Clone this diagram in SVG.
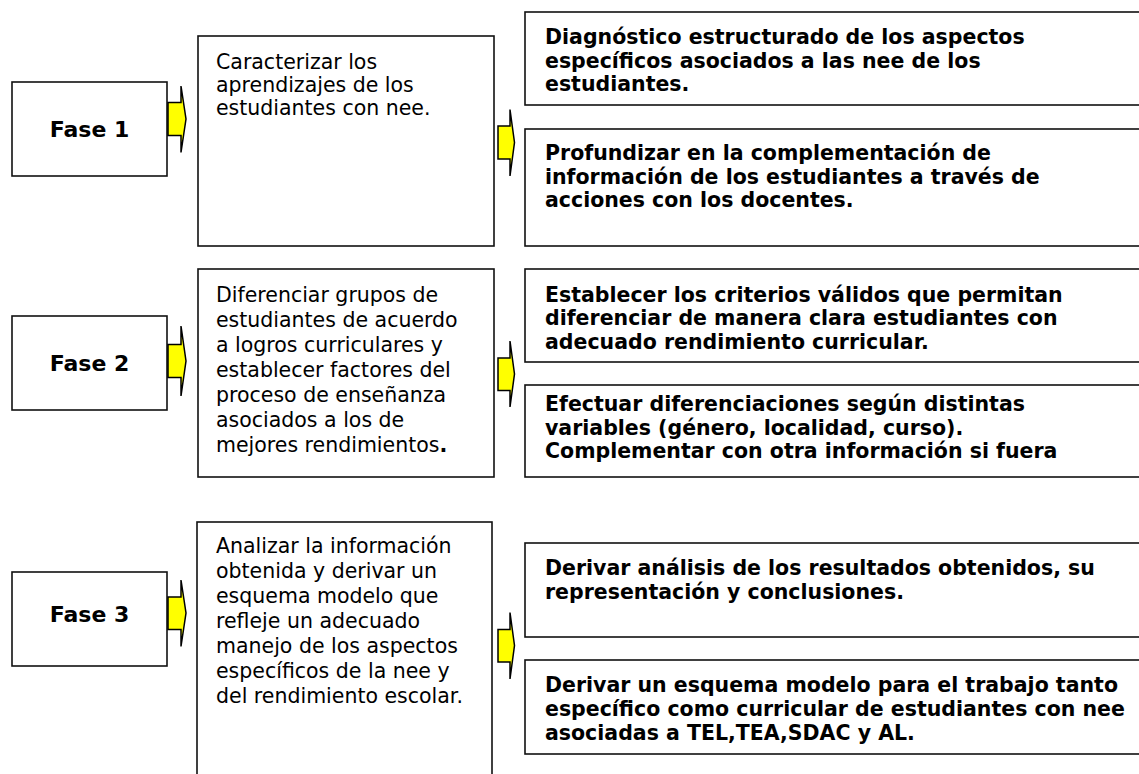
<svg xmlns="http://www.w3.org/2000/svg" width="1139" height="774" viewBox="0 0 1139 774">
<style>
.box{fill:#fff;stroke:#111;stroke-width:1.6}
.t{font-family:"DejaVu Sans",Verdana,sans-serif;font-size:20.5px;fill:#000}
.b{font-family:"DejaVu Sans",Verdana,sans-serif;font-size:20.5px;font-weight:bold;fill:#000}
.f{font-family:"DejaVu Sans",Verdana,sans-serif;font-size:22px;font-weight:bold;fill:#000;text-anchor:middle}
.arr{fill:#ffff00;stroke:#000;stroke-width:1.5;stroke-linejoin:miter}
</style>
<defs>
<clipPath id="clipEf"><rect x="525" y="385" width="620" height="92"/></clipPath>
<clipPath id="clipD2"><rect x="525" y="660" width="620" height="84"/></clipPath>
</defs>
<rect width="1139" height="774" fill="#fff"/>

<g id="fase1">
<rect class="box" x="12" y="82" width="155" height="94"/>
<text class="f" x="89.5" y="137">Fase 1</text>
</g>
<g id="caracterizar">
<rect class="box" x="198" y="36" width="296" height="210"/>
<text class="t" x="216"><tspan x="216" y="69">Caracterizar los</tspan><tspan x="216" y="92">aprendizajes de los</tspan><tspan x="216" y="115">estudiantes con nee.</tspan></text>
</g>
<g id="diagnostico">
<rect class="box" x="525" y="12" width="620" height="93"/>
<text class="b"><tspan x="545" y="44">Diagnóstico estructurado de los aspectos</tspan><tspan x="545" y="67.5">específicos asociados a las nee de los</tspan><tspan x="545" y="91">estudiantes.</tspan></text>
</g>
<g id="profundizar">
<rect class="box" x="525" y="129" width="620" height="117"/>
<text class="b"><tspan x="545" y="160">Profundizar en la complementación de</tspan><tspan x="545" y="183.5">información de los estudiantes a través de</tspan><tspan x="545" y="207">acciones con los docentes.</tspan></text>
</g>

<g id="fase2">
<rect class="box" x="12" y="316" width="155" height="94"/>
<text class="f" x="89.5" y="371">Fase 2</text>
</g>
<g id="diferenciar">
<rect class="box" x="198" y="269" width="296" height="208"/>
<text class="t"><tspan x="216" y="302">Diferenciar grupos de</tspan><tspan x="216" y="327">estudiantes de acuerdo</tspan><tspan x="216" y="352">a logros curriculares y</tspan><tspan x="216" y="377">establecer factores del</tspan><tspan x="216" y="402">proceso de enseñanza</tspan><tspan x="216" y="427">asociados a los de</tspan><tspan x="216" y="452">mejores rendimientos<tspan font-weight="bold">.</tspan></tspan></text>
</g>
<g id="establecer">
<rect class="box" x="525" y="269" width="620" height="93"/>
<text class="b"><tspan x="545" y="301.5">Establecer los criterios válidos que permitan</tspan><tspan x="545" y="325">diferenciar de manera clara estudiantes con</tspan><tspan x="545" y="348.5">adecuado rendimiento curricular.</tspan></text>
</g>
<g id="efectuar">
<rect class="box" x="525" y="385" width="620" height="92"/>
<text class="b" clip-path="url(#clipEf)"><tspan x="545" y="411">Efectuar diferenciaciones según distintas</tspan><tspan x="545" y="434.5">variables (género, localidad, curso).</tspan><tspan x="545" y="458">Complementar con otra información si fuera</tspan></text>
</g>

<g id="fase3">
<rect class="box" x="12" y="572" width="155" height="94"/>
<text class="f" x="89.5" y="622">Fase 3</text>
</g>
<g id="analizar">
<rect class="box" x="197" y="522" width="295" height="260"/>
<text class="t"><tspan x="216" y="553">Analizar la información</tspan><tspan x="216" y="578">obtenida y derivar un</tspan><tspan x="216" y="603">esquema modelo que</tspan><tspan x="216" y="628">refleje un adecuado</tspan><tspan x="216" y="653">manejo de los aspectos</tspan><tspan x="216" y="678">específicos de la nee y</tspan><tspan x="216" y="703">del rendimiento escolar.</tspan></text>
</g>
<g id="derivar1">
<rect class="box" x="525" y="543" width="620" height="94"/>
<text class="b"><tspan x="545" y="575">Derivar análisis de los resultados obtenidos, su</tspan><tspan x="545" y="598.5">representación y conclusiones.</tspan></text>
</g>
<g id="derivar2">
<rect class="box" x="525" y="660" width="620" height="94"/>
<text class="b" clip-path="url(#clipD2)"><tspan x="545" y="692">Derivar un esquema modelo para el trabajo tanto</tspan><tspan x="545" y="716">específico como curricular de estudiantes con nee</tspan><tspan x="545" y="740">asociadas a TEL,TEA,SDAC y AL.</tspan></text>
</g>

<g id="connectors">
<polygon class="arr" points="168,102.5 181,102.5 181,86 186,119 181,152.5 181,135.5 168,135.5"/>
<polygon class="arr" points="498,126 510,126 510,109.5 514.5,142.5 510,176 510,159 498,159"/>
<polygon class="arr" points="168,344.5 181,344.5 181,326 186,361 181,396 181,377.5 168,377.5"/>
<polygon class="arr" points="498,358 510,358 510,341 514.5,374 510,407 510,390.5 498,390.5"/>
<polygon class="arr" points="168,597 181,597 181,580 186,613 181,646.5 181,629.5 168,629.5"/>
<polygon class="arr" points="498,629.5 510,629.5 510,612.5 514.5,645.5 510,679 510,662 498,662"/>
</g>
</svg>
